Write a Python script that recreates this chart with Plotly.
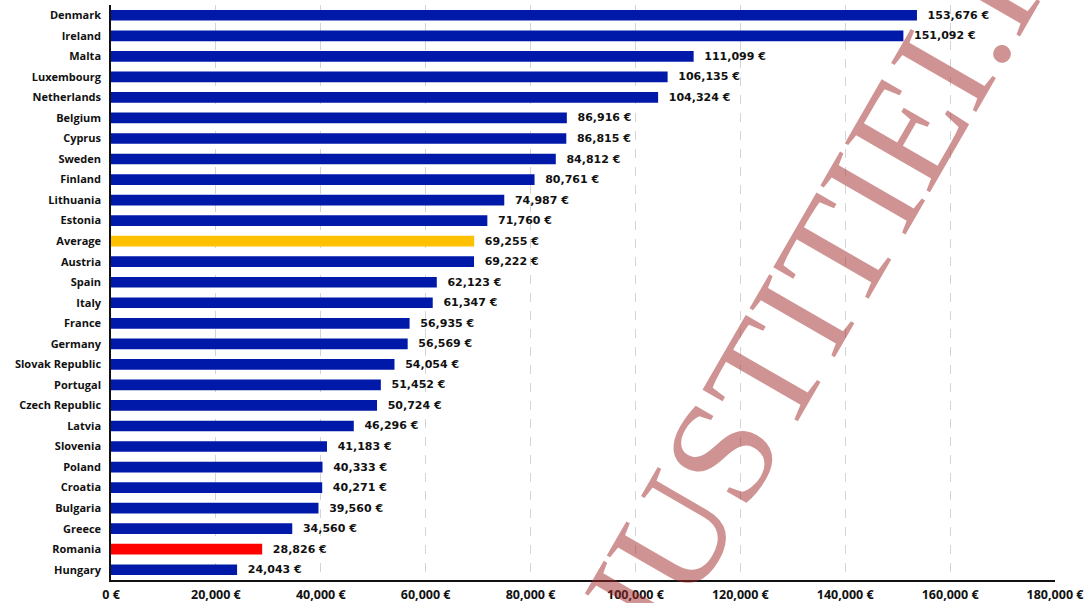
import plotly.graph_objects as go

countries = ["Denmark", "Ireland", "Malta", "Luxembourg", "Netherlands", "Belgium", "Cyprus",
             "Sweden", "Finland", "Lithuania", "Estonia", "Average", "Austria", "Spain", "Italy",
             "France", "Germany", "Slovak Republic", "Portugal", "Czech Republic", "Latvia",
             "Slovenia", "Poland", "Croatia", "Bulgaria", "Greece", "Romania", "Hungary"]
values = [153676, 151092, 111099, 106135, 104324, 86916, 86815, 84812, 80761, 74987, 71760,
          69255, 69222, 62123, 61347, 56935, 56569, 54054, 51452, 50724, 46296, 41183, 40333,
          40271, 39560, 34560, 28826, 24043]
x_ticks = [0, 20000, 40000, 60000, 80000, 100000, 120000, 140000, 160000, 180000]
watermark = "JUSTITIEI.RO"

BLUE = "#0019A8"
special = {"Average": "#FFC000", "Romania": "#FF0000"}
colors = [special.get(c, BLUE) for c in countries]
labels = [f"\u00a0\u00a0{v:,}\u00a0€" for v in values]

W, H = 1091, 603
ML, MR, MT, MB = 111, 36, 5, 23

fig = go.Figure(go.Bar(
    x=values, y=countries, orientation="h",
    marker=dict(color=colors, line=dict(width=0)),
    text=labels, textposition="outside", constraintext="none", cliponaxis=False,
    textfont=dict(family="DejaVu Sans", size=11, color="#111111", weight="bold"),
    hoverinfo="skip",
))

# watermark
cx_px, cy_px = 847, 234
fig.add_annotation(
    text=watermark, xref="paper", yref="paper",
    x=(cx_px - ML) / (W - ML - MR), y=1 - (cy_px - MT) / (H - MT - MB),
    xanchor="center", yanchor="middle", showarrow=False, textangle=-60,
    font=dict(family="Liberation Serif", size=150, color="rgba(160,40,40,0.5)"),
)

fig.update_layout(
    width=W, height=H,
    margin=dict(l=ML, r=MR, t=MT, b=MB, autoexpand=False),
    paper_bgcolor="white", plot_bgcolor="white",
    bargap=0.48, showlegend=False,
    xaxis=dict(
        range=[0, 180000], tickvals=x_ticks, ticktext=[f"{t:,} €" for t in x_ticks],
        showgrid=True, gridcolor="#d4d4d4", griddash="dash", gridwidth=1,
        showline=True, linecolor="#111111", linewidth=1.5, zeroline=False, ticks="",
        automargin=False, ticklabelstandoff=2,
        tickfont=dict(family="Open Sans", size=12.5, color="#111111", weight="bold"),
    ),
    yaxis=dict(
        autorange="reversed", showgrid=False, showline=True, linecolor="#111111",
        linewidth=1.5, ticks="", ticklabelstandoff=6, automargin=False,
        tickfont=dict(family="Open Sans", size=11, color="#111111", weight="bold"),
    ),
)

fig.write_html("out.html", config={"displayModeBar": False},
               post_script="document.body.style.margin='0px';document.body.style.overflow='hidden';")
